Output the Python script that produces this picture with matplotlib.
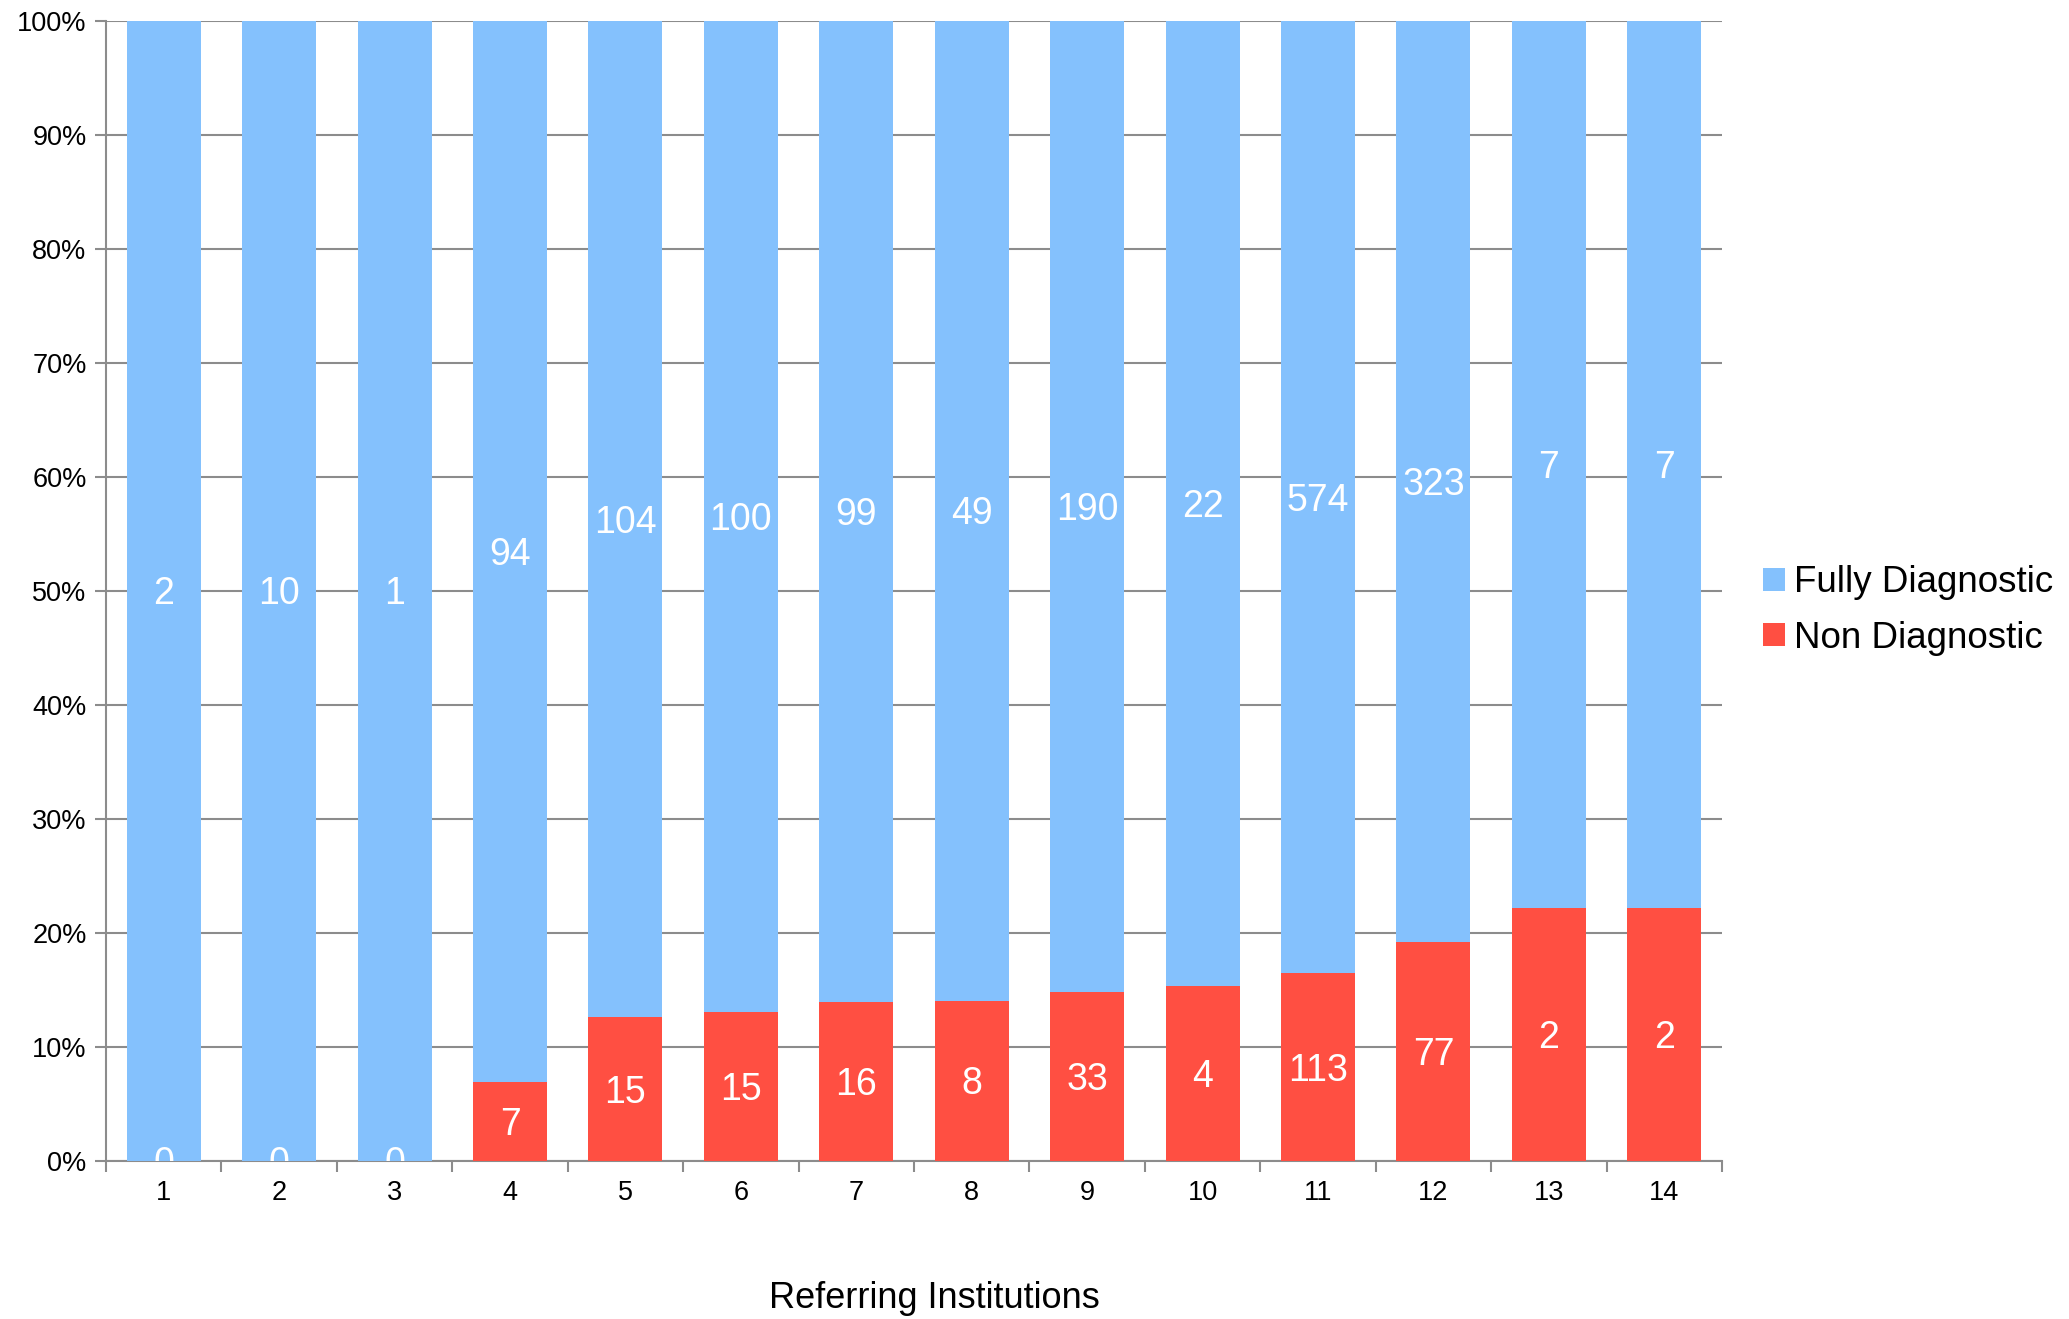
import numpy as np
import matplotlib.pyplot as plt

plt.rcParams['font.family'] = ['Liberation Sans', 'DejaVu Sans']

# counts per referring institution
institutions = ['1', '2', '3', '4', '5', '6', '7', '8', '9', '10', '11', '12', '13', '14']
fully = [2, 10, 1, 94, 104, 100, 99, 49, 190, 22, 574, 323, 7, 7]
non = [0, 0, 0, 7, 15, 15, 16, 8, 33, 4, 113, 77, 2, 2]

blue = '#84C1FD'
red = '#FF4F42'
grid_col = '#8C8C8C'

fully = np.array(fully)
non = np.array(non)
total = fully + non
non_pct = non / total * 100
fully_pct = fully / total * 100

fig = plt.figure(figsize=(20.69, 13.19), dpi=100)
ax = fig.add_axes([106 / 2069, 1 - 1161 / 1319, (1722 - 106) / 2069, (1161 - 21) / 1319])

x = np.arange(len(institutions))
w = 0.64
ax.bar(x, non_pct, width=w, color=red, label='Non Diagnostic', zorder=3)
ax.bar(x, fully_pct, width=w, bottom=non_pct, color=blue, label='Fully Diagnostic', zorder=3)

# value labels in the middle of each segment
for i in range(len(x)):
    ax.text(x[i], non_pct[i] / 2 - 0.3, str(non[i]), ha='center', va='center',
            color='white', fontsize=27, zorder=4, clip_on=True)
    ax.text(x[i], non_pct[i] + fully_pct[i] / 2 - 0.3, str(fully[i]), ha='center', va='center',
            color='white', fontsize=27, zorder=4, clip_on=True)

ax.set_xlim(-0.5, len(x) - 0.5)
ax.set_ylim(0, 100)
ax.set_yticks(np.arange(0, 101, 10))
ax.set_yticklabels(['%d%%' % v for v in range(0, 101, 10)], fontsize=19.5)
ax.yaxis.grid(True, color=grid_col, linewidth=1.5, zorder=0)

ax.set_xticks(x)
ax.set_xticklabels(institutions, fontsize=19.5)
ax.set_xticks(np.arange(-0.5, len(x)), minor=True)
ax.tick_params(axis='x', which='major', length=0, pad=14)
ax.tick_params(axis='x', which='minor', length=8, width=1.5, color=grid_col, direction='out')
ax.tick_params(axis='y', length=8, width=1.5, color=grid_col, direction='out', pad=6)

for s in ['top', 'right']:
    ax.spines[s].set_visible(False)
for s in ['left', 'bottom']:
    ax.spines[s].set_color(grid_col)
    ax.spines[s].set_linewidth(1.5)

fig.text(934 / 2069, 3 / 1319, 'Referring Institutions', fontsize=26,
         ha='center', va='bottom')

h, l = ax.get_legend_handles_labels()
ax.legend(h[::-1], l[::-1], loc='center left', bbox_to_anchor=(1.005, 0.483),
          frameon=False, fontsize=26.5, handlelength=0.6, handleheight=0.6,
          handletextpad=0.25, labelspacing=0.55)

fig.savefig('out.png', dpi=100)
